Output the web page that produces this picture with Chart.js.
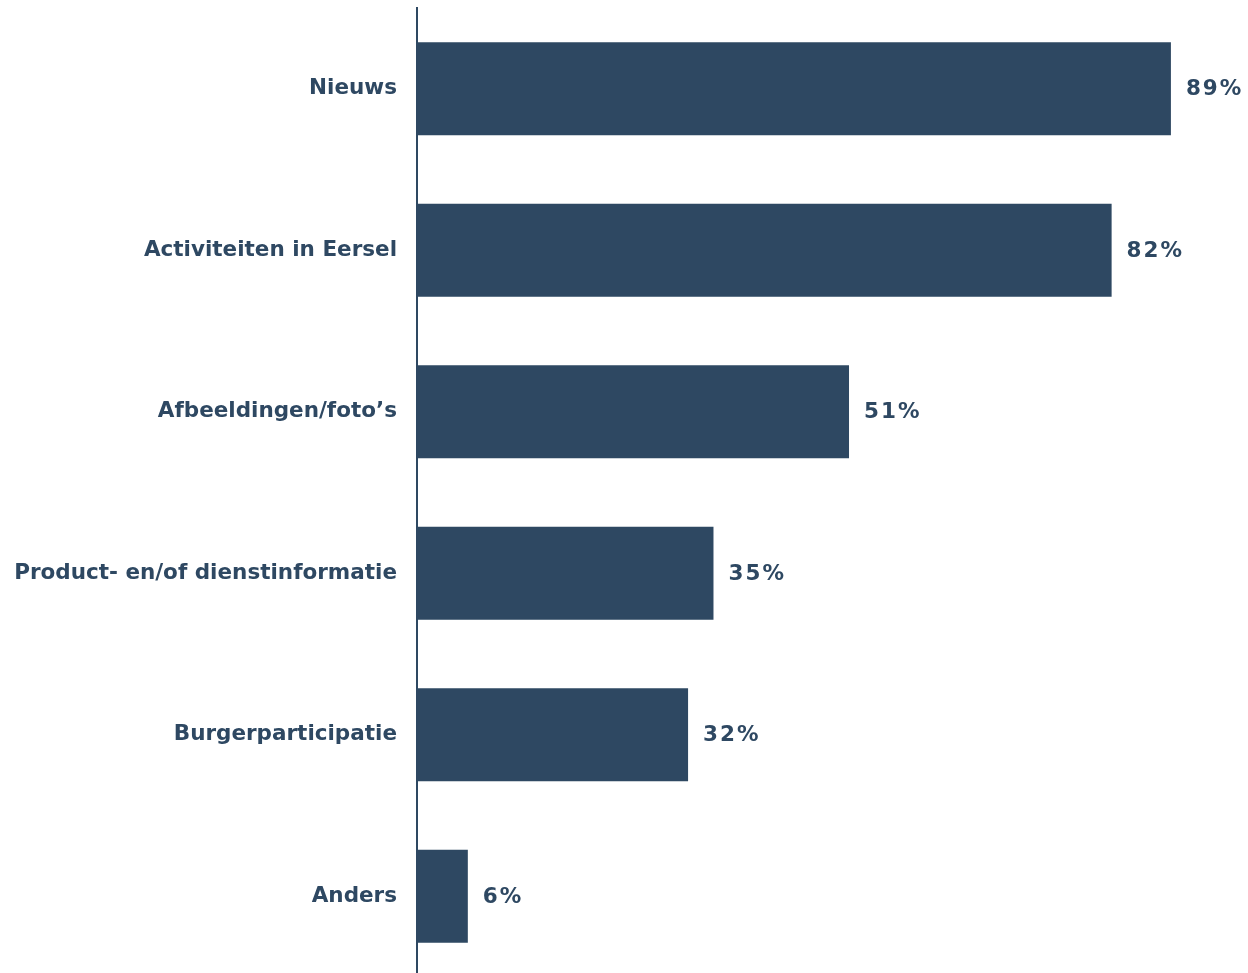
<!DOCTYPE html>
<html>
<head>
<meta charset="utf-8">
<script src="https://cdn.jsdelivr.net/npm/chart.js@4"></script>
<style>
  html, body { margin: 0; padding: 0; background: #fff; overflow: hidden; }
  #wrap { width: 1248px; height: 973px; overflow: hidden; }
  #wrap > div { position: relative; width: 1248px; height: 980px; }
</style>
</head>
<body>
<div id="wrap"><div><canvas id="chart"></canvas></div></div>
<script>
const categories = ['Nieuws', 'Activiteiten in Eersel', 'Afbeeldingen/foto\u2019s', 'Product- en/of dienstinformatie', 'Burgerparticipatie', 'Anders'];
const percentages = [89, 82, 51, 35, 32, 6];

const barColor = '#2E4862';
const labelFont = { family: '"DejaVu Sans", Verdana, sans-serif', size: 21.5, weight: 'bold' };

// waarde rechts naast elke balk
const valueLabels = {
    id: 'valueLabels',
    afterDatasetsDraw(chart) {
        const ctx = chart.ctx;
        const meta = chart.getDatasetMeta(0);
        ctx.save();
        ctx.font = 'bold 21.5px "DejaVu Sans", Verdana, sans-serif';
        ctx.letterSpacing = '2px';
        ctx.fillStyle = barColor;
        ctx.textAlign = 'left';
        ctx.textBaseline = 'middle';
        meta.data.forEach((bar, i) => {
            ctx.fillText(percentages[i] + '%', bar.x + 15, bar.y + 1);
        });
        ctx.restore();
    }
};

new Chart(document.getElementById('chart').getContext('2d'), {
    type: 'bar',
    data: {
        labels: categories,
        datasets: [{ data: percentages, backgroundColor: barColor, categoryPercentage: 1, barPercentage: 0.577 }]
    },
    options: {
        indexAxis: 'y',
        animation: false,
        responsive: true,
        maintainAspectRatio: false,
        layout: { padding: { top: 8, bottom: 3, right: 0, left: 0 } },
        plugins: { legend: { display: false }, tooltip: { enabled: false } },
        scales: {
            x: { display: false, min: 0, max: 98.1 },
            y: {
                afterFit: (scale) => {
                    scale.width = 417;
                    scale.paddingTop = 0;
                    scale.paddingBottom = 0;
                },
                grid: { display: false, drawTicks: false },
                border: { display: true, color: barColor, width: 2 },
                ticks: { color: barColor, font: labelFont, padding: 20 }
            }
        }
    },
    plugins: [valueLabels]
});
</script>
</body>
</html>
